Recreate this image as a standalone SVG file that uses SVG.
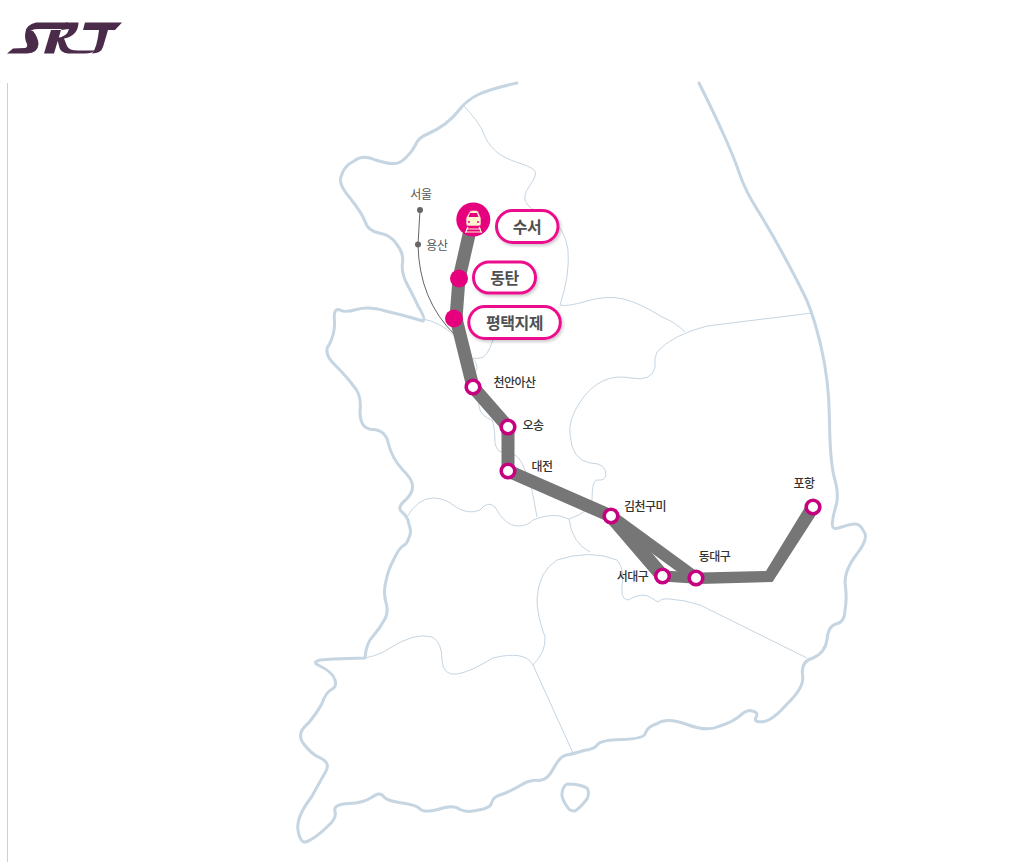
<svg xmlns="http://www.w3.org/2000/svg" width="1016" height="862" viewBox="0 0 1016 862">
<defs>
<filter id="sh" x="-10%" y="-20%" width="125%" height="150%"><feDropShadow dx="1.5" dy="2" stdDeviation="1.5" flood-color="#000" flood-opacity="0.2"/></filter>
</defs>
<style>
text{font-family:"Noto Sans CJK KR","Noto Sans",sans-serif;text-anchor:middle}
.coast{fill:none;stroke:#c5d5e2;stroke-width:3;stroke-linejoin:round;stroke-linecap:round}
.thin{fill:none;stroke:#c5d5e2;stroke-width:1}
.rail{fill:none;stroke:#767676;stroke-linejoin:miter}
.st{fill:#fff;stroke:#c6007e;stroke-width:3.6}
.pt{fill:#e6007e}
.pill{fill:#fff;stroke:#ec0f8c;stroke-width:3;filter:url(#sh)}
.big{font-size:16px;font-weight:700;fill:#505050;letter-spacing:-.5px}
.lb{font-size:12px;font-weight:500;fill:#333;letter-spacing:-.6px}
.lg{font-size:12px;fill:#555;letter-spacing:-.4px}
.lgd{fill:#666}
</style>
<rect width="1016" height="862" fill="#fff"/>
<rect x="7" y="83" width="1" height="779" fill="#cfcfcf"/>
<g id="logo" fill="#4a2c4a">
<path d="M7 53.500 L13 48.500 L25 48 Q28 47 27 44 Q24 38 25.500 32 Q26 25 36 22.500 L68 22.500 L62 29 L38 29 Q31 29 26.500 34 Q29 30 33 31 Q38 37 38.500 44 Q38 53 27 53.500Z"/>
<path d="M44 53.500 L51 30 L61 30 L66 22.500 L78.500 22.500 Q78 36 64 38.500 L67 46 Q69 50.500 78 50.500 L95 50.500 Q92 53.500 85 53.500 L68 53.500 Q60 53 59 46 L57 38 Q67 37 69 29 L61 30 L54 53.500Z"/>
<path d="M85 22.500 L122 22.500 L115 30 L108 30 L103 47 Q101 53.500 92 53.500 Q97 48 99 30 L83 30Z"/>
</g>
<g id="map">
<path class="coast" d="M517 83 Q490 89 478.500 94.500 Q467 100 460 109 Q453 118 445 124 Q437 130 427.500 134 Q418 138 415.500 145 Q412 152 406.500 157 Q400 164 394 163.500 Q388 164 375.500 160 Q363 154 354 161 Q344 166 341.500 175.500 Q337 183 350 198 Q362 213 365 221.500 Q368 231 379 233 Q391 235 396.500 244 Q404 253 402.500 263 Q401 273 407.500 285 Q414 297 418 306 Q426 319 423 321 Q403 315 385.500 311 Q368 306 356.500 309.500 Q345 313 340 310 Q333 307 334.500 321.500 Q335 333 329.500 344 Q322 353 336 366 Q347 377 353.500 386 Q362 395 360 411.500 Q360 429 372.500 429.500 Q386 430 388.500 444 Q392 458 402 469 Q413 480 412.500 486 Q413 493 405.500 500 Q396 508 402.500 512.500 Q408 517 409 524.500 Q412 532 409 537.500 Q407 544 403.500 545.500 Q399 548 394 559 Q388 570 386 581 Q383 592 386 602.500 Q389 613 384 620.500 Q380 628 373.500 635.500 Q366 643 365 658 L333 659 L320 660 Q312 662 318 665 Q333 672 335 680 Q337 687 331.500 689.500 Q326 692 322 703.500 Q317 713 308.500 723 Q296 733 303 743 Q312 755 320.500 758 Q331 763 325.500 772 Q322 778 311.500 797 Q296 817 298 830 Q300 843 306 842 Q316 838 328 826 Q337 818 335 811.500 Q333 804 349 803.500 Q363 803 371.500 797.500 Q380 791 383.500 796.500 Q387 801 402 803 Q417 805 420 809 Q424 813 438 809.500 Q453 804 460 809.500 Q467 813 478.500 810 Q491 808 491.500 803 Q493 797 500 795 Q507 793 518.500 786.500 Q530 779 538.500 780.500 Q547 781 553.500 768.500 Q560 756 566.500 755 Q573 754 584 750.500 Q595 749 597.500 744.500 Q601 740 621.500 739.500 Q644 739 645.500 733 Q648 726 657.500 723.500 Q667 717 687 724.500 Q707 732 718.500 726.500 Q730 723 738.500 717 Q747 709 752 711 Q759 712 756 717.500 Q753 723 764 721.500 Q773 720 787.500 703.500 Q805 687 802.500 675 Q801 661 813 658 Q825 653 827 640 Q828 626 836 624 Q845 622 845 610 Q847 600 845.500 586.500 Q843 573 855 556.500 Q870 538 863.500 531 Q860 523 853.500 524 Q847 525 840 527.500 Q831 531 832.500 522 Q833 515 836.500 504 Q839 493 834 476.500 Q830 460 829.500 420 Q829 380 821 346.500 Q813 313 805 296.500 Q797 280 783.500 255 Q770 230 757.500 210 Q745 190 740 175 Q735 160 725 137.500 Q715 115 699 83"/>
<path class="coast" d="M567 784 Q580 784 587 788 Q590 793 587 799 Q580 808 575 811 Q570 811 568 808 Q561 798 562 793 Q563 786 567 784Z"/>
<path class="thin" d="M463 105 Q480 123 483.500 133 Q487 143 495 150.500 Q503 158 519 163 Q535 168 535.500 172.500 Q536 177 529.500 186 Q523 195 525.500 201.500 Q528 208 545 217 Q565 225 568 250 Q570 275 560 305"/>
<path class="thin" d="M560 305 Q567 307 587 301 Q607 295 623.500 299 Q640 303 662 317 Q675 322 685 332"/>
<path class="thin" d="M812 313 L707 326 Q672 335 657 352 Q654 358 655 367 Q652 382 631 378 Q600 372 580 402 Q568 420 570 435 Q572 460 590 463 Q606 463 606 475 Q605 481 597 480 Q592 480 592 500 Q590 512 569 519"/>
<path class="thin" d="M493 340 Q487 358 480 358 Q476 359 473 358 Q480 368 475 372 Q477 400 480 410 Q482 416 492 420 Q495 428 495 443 Q497 452 502 452 Q515 452 520 460 Q525 467 532 490 L537 517"/>
<path class="thin" d="M407 517 Q418 498 433 498 Q445 498 456 507 Q468 515 480 510 Q488 500 495 507 Q505 526 518 526 Q528 526 533 520 Q548 514 560 516 L569 519"/>
<path class="thin" d="M569 519 Q572 543 590 552"/>
<path class="thin" d="M617 560 Q590 549 557 560 Q538 572 537 600 Q537 615 545 637 Q546 652 533 665"/>
<path class="thin" d="M617 560 Q622 565 623 577 Q619 600 628 600 Q640 593 648 596 Q655 600 658 602 Q662 598 670 599 Q685 600 700 605 L807 658"/>
<path class="thin" d="M365 658 Q380 655 390 648 Q415 632 432 637 Q442 642 442 660 Q443 676 457 674 Q470 672 493 658 Q525 650 533 665 L573 753"/>
<path class="thin" d="M423 319 Q440 322 455 336"/>
</g>
<g id="connectors">
<path d="M420 210 L418 244.500 Q419 300 455 335" fill="none" stroke="#666" stroke-width="1"/>
<path class="rail" stroke-width="13" d="M471 226 L459 278.500 L456 318.500 L473 387 L508 427 L508 471 L611 516"/>
<path class="rail" stroke-width="14" d="M611 516 L662.500 576"/>
<path class="rail" stroke-width="12" d="M611 516 L696 578"/>
<path d="M662.500 570.500 L700 572.500 L766 571 L807.300 503.400 L818.700 510.600 L772.500 582 L700 584 L662.500 581.500Z" fill="#767676"/>
</g>
<g id="seoul"><circle class="lgd" cx="420" cy="210" r="3"/><text class="lg" x="421" y="199">서울</text></g>
<g id="yongsan"><circle class="lgd" cx="418" cy="244.500" r="3"/><text class="lg" x="437" y="250">용산</text></g>
<g id="suseo">
<circle class="pt" cx="473.300" cy="219.500" r="17"/>
<path d="M470 211 Q474 209.500 478 211 L481 218 L481 224 Q481 226 479 226 L468 226 Q466 226 466 224 L466 218Z" fill="#fff3cf" stroke="#e6007e" stroke-width=".6"/>
<path d="M470 213 L477 213 L478.500 217 L468.500 217Z" fill="#e6007e"/>
<circle cx="469" cy="222" r="1" fill="#e6007e"/><circle cx="478" cy="222" r="1" fill="#e6007e"/>
<path d="M468 227 L465.500 233 M479 227 L481.500 233 M466 229 L481 229 M465 232 L482 232" stroke="#fff3cf" stroke-width="1.100" fill="none"/>
<rect class="pill" x="496.500" y="210.500" width="61.500" height="32" rx="16"/>
<text class="big" x="527" y="232.500">수서</text>
</g>
<g id="dongtan">
<circle class="pt" cx="459" cy="278.500" r="9"/>
<rect class="pill" x="473.500" y="262" width="62" height="31" rx="15.500"/>
<text class="big" x="504.500" y="283.500">동탄</text>
</g>
<g id="pyeongtaek">
<circle class="pt" cx="454" cy="318.500" r="9"/>
<rect class="pill" x="468.800" y="306.500" width="91.500" height="32" rx="16"/>
<text class="big" x="514.500" y="328.500">평택지제</text>
</g>
<g id="cheonan"><circle class="st" cx="473" cy="387" r="6.800"/><text class="lb" x="514.500" y="387">천안아산</text></g>
<g id="osong"><circle class="st" cx="508" cy="427" r="6.800"/><text class="lb" x="533" y="430">오송</text></g>
<g id="daejeon"><circle class="st" cx="508" cy="471" r="6.800"/><text class="lb" x="542" y="471">대전</text></g>
<g id="gimcheon"><circle class="st" cx="611" cy="516" r="6.800"/><text class="lb" x="645" y="511">김천구미</text></g>
<g id="seodaegu"><circle class="st" cx="662.500" cy="576" r="6.800"/><text class="lb" x="632.500" y="581">서대구</text></g>
<g id="dongdaegu"><circle class="st" cx="696" cy="578" r="6.800"/><text class="lb" x="714.500" y="561">동대구</text></g>
<g id="pohang"><circle class="st" cx="813" cy="507" r="6.800"/><text class="lb" x="804" y="488">포항</text></g>
</svg>
